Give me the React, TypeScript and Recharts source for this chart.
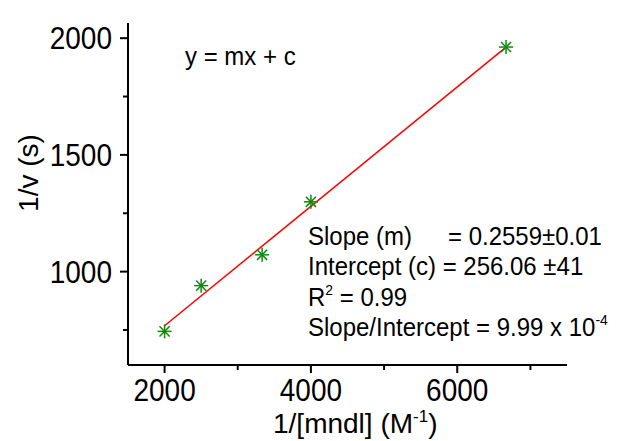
import React from 'react';
import { ComposedChart, Line, Scatter, XAxis, YAxis } from 'recharts';

// 1/[mndl] (M^-1) vs 1/v (s) — Lineweaver-Burk style plot
const invConc = [2000, 2500, 3333, 4000, 6667];
const invRate = [744, 940, 1072, 1299, 1962];

// fitted line y = mx + c, end points
const fitX = [2000, 6667];
const fitY = [768, 1962];

const xTicks = [2000, 3000, 4000, 5000, 6000, 7000];
const xLabelled = [2000, 4000, 6000];
const yTicks = [750, 1000, 1250, 1500, 1750, 2000];
const yLabelled = [1000, 1500, 2000];

const points = invConc.map((x, i) => ({ x, y: invRate[i] }));
const fit = fitX.map((x, i) => ({ x, y: fitY[i] }));

const FONT = '"Liberation Sans", Arial, sans-serif';
const GREEN = '#0a8a0a';

// text in the reference is a bit taller than it is wide
const tall = (y: number) => `translate(0 ${y}) scale(1 1.1) translate(0 ${-y})`;

function Star(props: any) {
  const { cx, cy } = props;
  const r = 7;
  const d = r * 0.72;
  return (
    <g stroke={GREEN} strokeWidth={1.5}>
      <line x1={cx - r} y1={cy} x2={cx + r} y2={cy} />
      <line x1={cx} y1={cy - r} x2={cx} y2={cy + r} />
      <line x1={cx - d} y1={cy - d} x2={cx + d} y2={cy + d} />
      <line x1={cx - d} y1={cy + d} x2={cx + d} y2={cy - d} />
    </g>
  );
}

function XTick(props: any) {
  const { x, y, payload } = props;
  const major = xLabelled.includes(payload.value);
  return (
    <g>
      <line x1={x} y1={y} x2={x} y2={y + (major ? 8 : 5)} stroke="#000" strokeWidth={2} />
      {major && (
        <text x={x} y={y + 36} transform={tall(y + 36)} textAnchor="middle" fontSize={28} fontFamily={FONT} fill="#000">
          {payload.value}
        </text>
      )}
    </g>
  );
}

function YTick(props: any) {
  const { x, y, payload } = props;
  const major = yLabelled.includes(payload.value);
  return (
    <g>
      <line x1={x} y1={y} x2={x - (major ? 8 : 5)} y2={y} stroke="#000" strokeWidth={2} />
      {major && (
        <text x={x - 16} y={y + 10} transform={tall(y)} textAnchor="end" fontSize={28} fontFamily={FONT} fill="#000">
          {payload.value}
        </text>
      )}
    </g>
  );
}

export default function App() {
  return (
    <div style={{ position: 'absolute', left: 0, top: 0, background: '#fff' }}>
      <ComposedChart
        width={621}
        height={441}
        margin={{ top: 23, right: 54, left: 0, bottom: 0 }}
      >
        <XAxis
          type="number"
          dataKey="x"
          domain={[1500, 7500]}
          ticks={xTicks}
          tick={<XTick />}
          tickSize={0}
          tickMargin={0}
          tickLine={false}
          axisLine={{ stroke: '#000', strokeWidth: 2 }}
          height={76}
          allowDataOverflow
        />
        <YAxis
          type="number"
          dataKey="y"
          domain={[600, 2065]}
          ticks={yTicks}
          tick={<YTick />}
          tickSize={0}
          tickMargin={0}
          tickLine={false}
          axisLine={{ stroke: '#000', strokeWidth: 2 }}
          width={128}
          allowDataOverflow
        />
        <Line
          data={fit}
          dataKey="y"
          type="linear"
          stroke="#ff0000"
          strokeWidth={1.5}
          dot={false}
          activeDot={false}
          isAnimationActive={false}
        />
        <Scatter data={points} dataKey="y" shape={<Star />} isAnimationActive={false} />

        <text x={185} y={65} transform={tall(65)} fontSize={24} fontFamily={FONT} fill="#000">y = mx + c</text>

        <g fontSize={24} fontFamily={FONT} fill="#000">
          <text x={308} y={245} transform={tall(245)}>
            Slope (m)
            <tspan x={448}>= 0.2559±0.01</tspan>
          </text>
          <text x={308} y={275} transform={tall(275)}>Intercept (c) = 256.06 ±41</text>
          <text x={308} y={306} transform={tall(306)}>
            R<tspan dy={-10} fontSize={14}>2</tspan>
            <tspan dy={10}> = 0.99</tspan>
          </text>
          <text x={308} y={336} transform={tall(336)}>
            Slope/Intercept = 9.99 x 10<tspan dy={-10} fontSize={14}>-4</tspan>
          </text>
        </g>

        <text
          x={38}
          y={173}
          transform="rotate(-90, 38, 173)"
          textAnchor="middle"
          fontSize={28}
          fontFamily={FONT}
          fill="#000"
        >
          1/v (s)
        </text>
        <text x={273} y={433} fontSize={28} fontFamily={FONT} fill="#000">
          1/[mndl] (M<tspan dy={-11} fontSize={17}>-1</tspan>
          <tspan dy={11}>)</tspan>
        </text>
      </ComposedChart>
    </div>
  );
}
